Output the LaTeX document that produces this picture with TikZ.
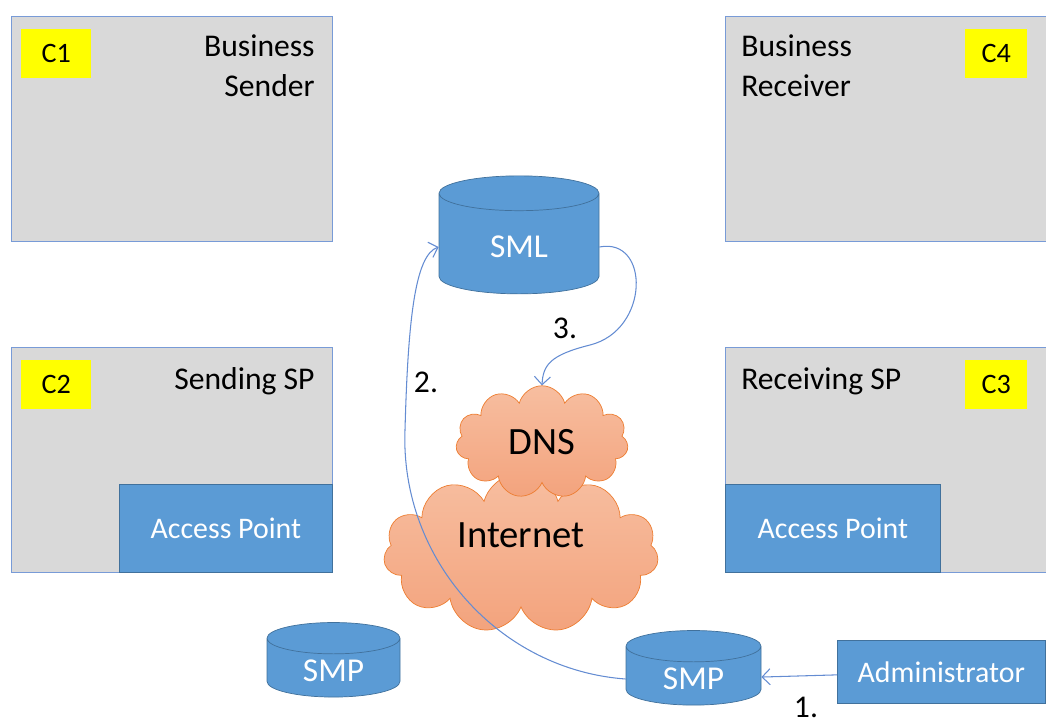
\documentclass[tikz,border=0pt]{standalone}
\usepackage{fontspec}
\setmainfont{Carlito}
\usetikzlibrary{shapes.geometric,shapes.symbols,arrows.meta}
\definecolor{boxgray}{RGB}{217,217,217}
\definecolor{boxline}{RGB}{120,155,215}
\definecolor{apblue}{RGB}{91,155,213}
\definecolor{apline}{RGB}{65,113,156}
\definecolor{tagyellow}{RGB}{255,255,0}
\definecolor{cloudtop}{RGB}{247,190,160}
\definecolor{cloudbot}{RGB}{243,163,125}
\definecolor{cloudline}{RGB}{237,125,49}
\definecolor{flowline}{RGB}{100,140,210}
\tikzstyle{party} = [rectangle, draw = boxline, fill = boxgray, minimum width = 6.42cm, minimum height = 4.5cm, anchor = north west]
\tikzstyle{tag} = [rectangle, fill = tagyellow, minimum width = 1.4cm, minimum height = 0.98cm, anchor = north west, font = \fontsize{16}{19}\selectfont]
\tikzstyle{title} = [inner sep = 0pt, font = \fontsize{18}{23}\selectfont]
\tikzstyle{ap} = [rectangle, draw = apline, fill = apblue, text = white, minimum height = 1.76cm, anchor = north west, font = \fontsize{17}{20}\selectfont]
\tikzstyle{db} = [cylinder, shape border rotate = 90, aspect = 0.5, draw = apline, fill = apblue, text = white, font = \fontsize{19}{22}\selectfont]
\tikzstyle{net} = [cloud, cloud puffs = 11, cloud ignores aspect, draw = cloudline, top color = cloudtop, bottom color = cloudbot, font = \fontsize{22}{26}\selectfont]
\tikzstyle{num} = [inner sep = 0pt, font = \fontsize{18}{22}\selectfont]
\tikzstyle{flow} = [draw = flowline, semithick, -{Straight Barb[length=1.6mm,width=3.2mm]}]

\begin{document}
\begin{tikzpicture}
\useasboundingbox (0,0) rectangle (20.92,-14.48);

\node(sender) [party] at (0.22,-0.32) {};
\node(tagone) [tag] at (0.42,-0.58) {C1};
\node(sendertxt) [title, anchor = north east, align = right] at (6.3,-0.68) {Business\\Sender};
\node(receiver) [party] at (14.5,-0.32) {};
\node(tagfour) [tag, minimum width = 1.24cm] at (19.3,-0.58) {C4};
\node(receivertxt) [title, anchor = north west, align = left] at (14.82,-0.68) {Business\\Receiver};

\node(sendsp) [party] at (0.22,-6.94) {};
\node(tagtwo) [tag] at (0.42,-7.2) {C2};
\node(sendsptxt) [title, anchor = north east] at (6.3,-7.34) {Sending SP};
\node(apsend) [ap, minimum width = 4.26cm] at (2.38,-9.68) {Access Point};
\node(recvsp) [party] at (14.5,-6.94) {};
\node(tagthree) [tag, minimum width = 1.24cm] at (19.3,-7.2) {C3};
\node(recvsptxt) [title, anchor = north west] at (14.82,-7.34) {Receiving SP};
\node(aprecv) [ap, minimum width = 4.3cm] at (14.5,-9.68) {Access Point};

\node(internet) [net, minimum width = 5.5cm, minimum height = 3.2cm, text height = 0.55cm, text depth = 0.77cm] at (10.42,-11.06) {Internet};
\node(dns) [net, minimum width = 3.45cm, minimum height = 2.25cm] at (10.84,-8.84) {DNS};

\node(sml) [db, minimum width = 3.2cm, minimum height = 2.36cm] at (10.38,-4.94) {SML};
\node(smpleft) [db, aspect = 0.43, minimum width = 2.66cm, minimum height = 1.25cm] at (6.67,-13.42) {SMP};
\node(smpright) [db, aspect = 0.43, minimum width = 2.7cm, minimum height = 1.25cm] at (13.87,-13.58) {SMP};
\node(admin) [ap, minimum width = 4.16cm, minimum height = 1.26cm] at (16.74,-12.8) {Administrator};

\draw [flow] (admin) -- (smpright);
\node(numone) [num] at (16.12,-14.15) {1.};
\draw [flow] (smpright.west) .. controls (10.0,-13.4) and (8.0,-11.2) .. (8.1,-8.6) .. controls (8.16,-6.4) and (8.3,-5.1) .. (sml.west);
\node(numtwo) [num] at (8.52,-7.64) {2.};
\draw [flow] (sml.east) .. controls (13.0,-4.74) and (13.0,-6.6) .. (11.8,-6.9) .. controls (11.0,-7.1) and (10.86,-7.3) .. (dns.north);
\node(numthree) [num] at (11.3,-6.56) {3.};

\end{tikzpicture}
\end{document}
